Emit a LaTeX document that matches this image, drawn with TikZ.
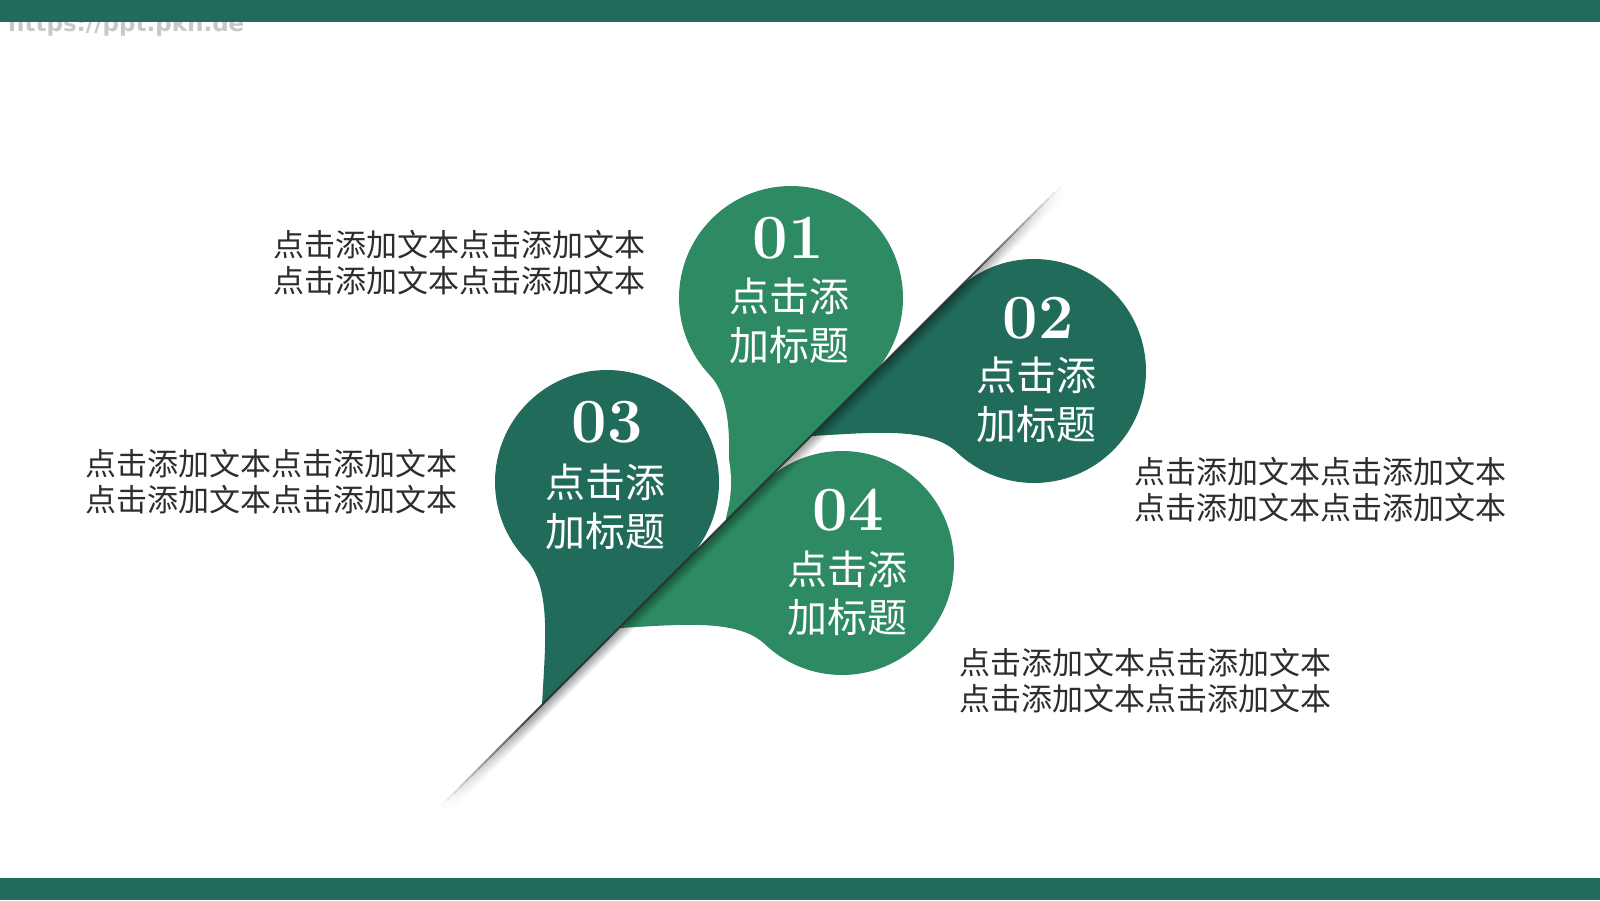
\documentclass[tikz,border=0pt]{standalone}
\usepackage{fontspec}
\newfontfamily\cjk{Noto Sans CJK SC}
\newfontfamily\wmfont{DejaVu Sans}
\definecolor{lightg}{RGB}{46,138,98}
\definecolor{darkg}{RGB}{33,107,91}
\definecolor{barc}{RGB}{33,107,93}
\definecolor{bodyc}{RGB}{45,45,45}
\definecolor{wmc}{RGB}{200,200,200}
\newcommand\ULpath{(79.2,79.2) arc[start angle=-45,end angle=224,radius=112pt] .. controls (-55,106) and (-62,165) .. (-65,223) -- cycle}
\newcommand\LRpath{(-79.2,-79.2) arc[start angle=135,end angle=-134,radius=112pt] .. controls (-106,55) and (-165,62) .. (-223,65) -- cycle}
\begin{document}
\begin{tikzpicture}[x=1pt,y=-1pt,
  numtxt/.style={text=white, font=\bfseries\fontsize{63}{63}\selectfont, inner sep=0pt},
  ttl/.style={text=white, font=\cjk\fontsize{40}{48}\selectfont, inner sep=0pt},
  body/.style={text=bodyc, font=\cjk\fontsize{31}{36}\selectfont, align=center, inner sep=0pt},
  wm/.style={text=wmc, font=\wmfont\bfseries\fontsize{23}{23}\selectfont, inner sep=0pt},
  gap/.style={white, line width=24pt, line join=round}]
\useasboundingbox (0,0) rectangle (1600,900);
\fill[white] (0,0) rectangle (1600,900);
\node[wm, anchor=base west] (wm) at (8,31) {https://ppt.pkn.de};
\fill[barc] (0,0) rectangle (1600,22);
\fill[barc] (0,878) rectangle (1600,900);

% shapes on the upper-left side of the fold
\begin{scope}
  \clip (1347,-100) -- (-100,-100) -- (-100,1347) -- cycle;
  \fill[lightg, shift={(791,298)}] \ULpath;
  \draw[gap, shift={(607,482)}] \ULpath;
  \fill[darkg, shift={(607,482)}] \ULpath;
\end{scope}

% shapes on the lower-right side of the fold
\begin{scope}
  \clip (1347,-100) -- (1700,-100) -- (1700,1000) -- (247,1000) -- cycle;
  \fill[darkg, shift={(1034,371)}] \LRpath;
  \draw[gap, shift={(842,563)}] \LRpath;
  \fill[lightg, shift={(842,563)}] \LRpath;
\end{scope}

% fold line with its shadow
\foreach \i in {0,...,99}{
  \pgfmathsetmacro\op{min(0.85,6*(\i+0.5)/100,6*(1-(\i+0.5)/100))}
  \pgfmathsetmacro\xa{441+6.2*\i}
  \pgfmathsetmacro\xb{441+6.2*(\i+1)}
  \foreach \d in {1,...,11}{
    \pgfmathsetmacro\so{\op*0.40*(1-\d/12)}
    \draw[black, opacity=\so, line width=1.1pt]
      ({\xa+0.707*\d},{1247-\xa+0.707*\d}) -- ({\xb+0.707*\d},{1247-\xb+0.707*\d});
  }
  \draw[black!85, opacity=\op, line width=1.8pt] (\xa,{1247-\xa}) -- (\xb,{1247-\xb});
}

% titles
\node[numtxt] (n1) at (788,238) {01};
\node[ttl] (t1a) at (789,296) {点击添};
\node[ttl] (t1b) at (789,345) {加标题};

\node[numtxt] (n2) at (1038,318) {02};
\node[ttl] (t2a) at (1036,375) {点击添};
\node[ttl] (t2b) at (1036,424) {加标题};

\node[numtxt] (n3) at (607,422) {03};
\node[ttl] (t3a) at (605,482) {点击添};
\node[ttl] (t3b) at (605,531) {加标题};

\node[numtxt] (n4) at (848,510) {04};
\node[ttl] (t4a) at (847,569) {点击添};
\node[ttl] (t4b) at (847,617) {加标题};

% body texts
\node[body] (b1) at (459,263) {点击添加文本点击添加文本\\点击添加文本点击添加文本};
\node[body] (b2) at (1320,490) {点击添加文本点击添加文本\\点击添加文本点击添加文本};
\node[body] (b3) at (271,482) {点击添加文本点击添加文本\\点击添加文本点击添加文本};
\node[body] (b4) at (1145,681) {点击添加文本点击添加文本\\点击添加文本点击添加文本};
\end{tikzpicture}
\end{document}
